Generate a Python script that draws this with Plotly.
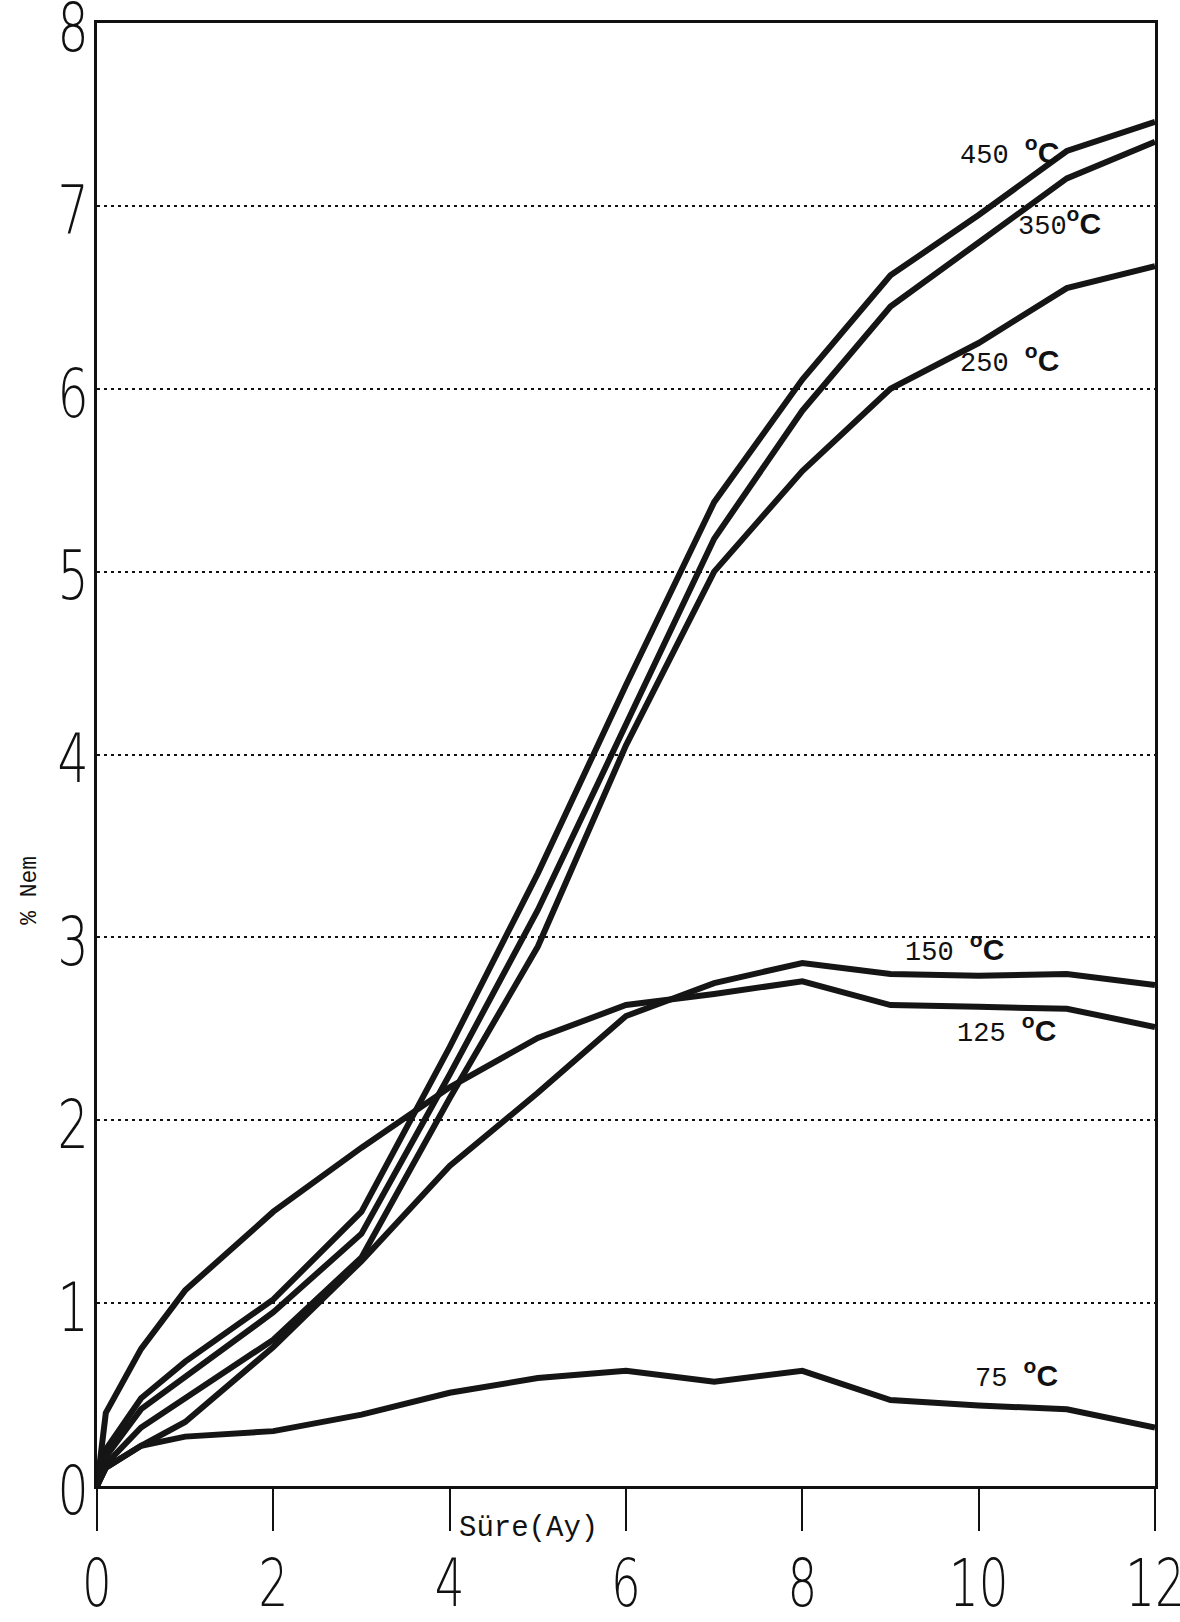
import plotly.graph_objects as go

# ---- data ----
months = [0, 0.1, 0.5, 1, 2, 3, 4, 5, 6, 7, 8, 9, 10, 11, 12]
h450 = [0, 0.20, 0.48, 0.68, 1.02, 1.50, 2.40, 3.35, 4.38, 5.38, 6.05, 6.62, 6.95, 7.30, 7.46]
h350 = [0, 0.16, 0.42, 0.60, 0.95, 1.38, 2.25, 3.15, 4.16, 5.18, 5.88, 6.45, 6.80, 7.15, 7.35]
h250 = [0, 0.12, 0.32, 0.48, 0.80, 1.25, 2.12, 2.95, 4.05, 5.00, 5.55, 6.00, 6.25, 6.55, 6.67]
h150 = [0, 0.10, 0.22, 0.35, 0.76, 1.23, 1.75, 2.15, 2.57, 2.75, 2.86, 2.80, 2.79, 2.80, 2.74]
h125 = [0, 0.40, 0.75, 1.07, 1.50, 1.85, 2.18, 2.45, 2.63, 2.69, 2.76, 2.63, 2.62, 2.61, 2.51]
h75 = [0, 0.10, 0.22, 0.27, 0.30, 0.39, 0.51, 0.59, 0.63, 0.57, 0.63, 0.47, 0.44, 0.42, 0.32]

series_names = ["450", "350", "250", "150", "125", "75"]
series_values = [h450, h350, h250, h150, h125, h75]
label_gap = [" ", "", " ", " ", " ", " "]
label_x = [10.35, 10.92, 10.35, 9.73, 10.31, 10.43]
label_y = [7.30, 6.91, 6.16, 2.94, 2.50, 0.61]

x_ticks = [0, 2, 4, 6, 8, 10, 12]
y_ticks = [0, 1, 2, 3, 4, 5, 6, 7, 8]

fig = go.Figure()
for name, vals in zip(series_names, series_values):
    fig.add_trace(go.Scatter(x=months, y=vals, mode="lines", name=name + " °C",
                             line=dict(color="#151515", width=6), showlegend=False))

mono = "Liberation Mono, Courier New, monospace"
for name, gap, lx, ly in zip(series_names, label_gap, label_x, label_y):
    txt = (name + gap + '<span style="font-family:Liberation Sans;font-weight:bold;font-size:30px">'
           '<sup>o</sup>C</span>')
    fig.add_annotation(x=lx, y=ly, xref="x", yref="y", text=txt, showarrow=False,
                       xanchor="center", yanchor="middle",
                       font=dict(family=mono, size=27, color="#111"))

x_tick_font = dict(family="DejaVu Sans, sans-serif", size=65, color="#111", weight=200)
y_tick_font = dict(family="DejaVu Sans, sans-serif", size=68, color="#111", weight=200)

fig.update_xaxes(range=[0, 12], tickvals=x_ticks, ticktext=[str(v) for v in x_ticks],
                 showgrid=False, zeroline=False, showline=True, linecolor="#111",
                 linewidth=2.5, mirror=True, ticks="outside", ticklen=42, tickwidth=2,
                 tickcolor="#111", tickfont=x_tick_font, ticklabelstandoff=0,
                 ticklabeloverflow="allow", automargin=False)
fig.update_yaxes(range=[0, 8], tickvals=y_ticks, ticktext=[str(v) for v in y_ticks],
                 showgrid=True, gridcolor="#111", gridwidth=2, griddash="3px,4px",
                 zeroline=False, showline=True, linecolor="#111", linewidth=2.5,
                 mirror=True, ticks="", tickfont=y_tick_font, ticklabelstandoff=2,
                 ticklabeloverflow="allow", automargin=False)

fig.add_annotation(x=4.08, y=-0.029, xref="x", yref="paper", text="Süre(Ay)",
                   showarrow=False, xanchor="left", yanchor="middle",
                   font=dict(family=mono, size=29, color="#111"))
fig.add_annotation(x=-0.064, y=0.407, xref="paper", yref="paper", text="% Nem",
                   showarrow=False, textangle=-90, xanchor="center", yanchor="middle",
                   font=dict(family=mono, size=23, color="#111"))

fig.update_layout(width=1180, height=1622, paper_bgcolor="white", plot_bgcolor="white",
                  margin=dict(l=97, r=25, t=23, b=136, autoexpand=False), showlegend=False)

post = """
document.body.style.margin = '0';
document.body.style.overflow = 'hidden';
var gd = document.getElementById('{plot_id}');
function squeeze() {
  document.querySelectorAll('.xtick text, .ytick text').forEach(function (t) {
    var tr = t.getAttribute('transform') || '';
    if (tr.indexOf('scale') < 0) {
      var x = parseFloat(t.getAttribute('x')) || 0;
      var isY = !!t.closest('.ytick');
      var dx = isY ? 10 : 0;
      var dy = isY ? 4 : -3;
      t.setAttribute('transform', tr + ' translate(' + (x + dx) + ',' + dy + ') scale(0.72,1) translate(' + (-x) + ',0)');
    }
  });
}
squeeze();
gd.on('plotly_afterplot', squeeze);
"""

fig.write_html("out.html", post_script=post, config={"displayModeBar": False})
